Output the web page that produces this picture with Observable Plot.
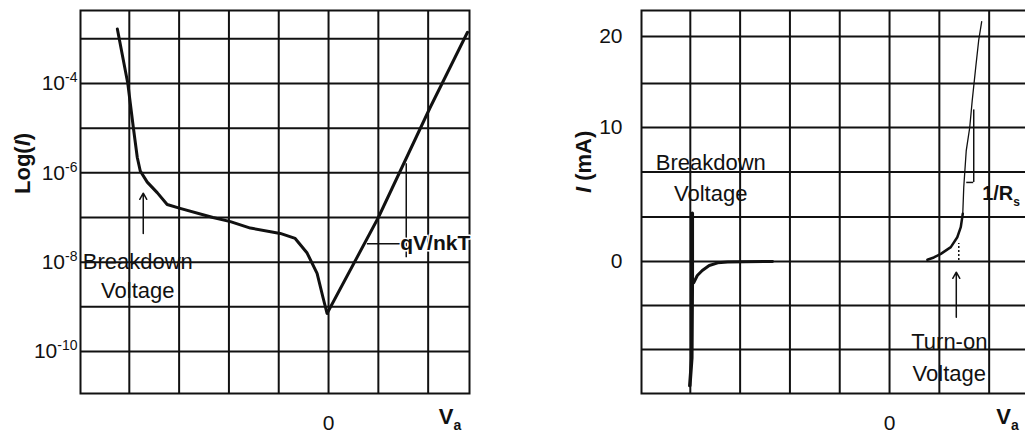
<!DOCTYPE html>
<html><head><meta charset="utf-8">
<script src="https://cdn.jsdelivr.net/npm/d3@7"></script>
<script src="https://cdn.jsdelivr.net/npm/@observablehq/plot@0.6"></script>
<style>
html,body{margin:0;padding:0;background:#fff;overflow:hidden;}
body{width:1025px;height:440px;position:relative;font-family:"Liberation Sans",Arial,sans-serif;}
#left{position:absolute;left:0;top:0;width:500px;height:440px;}
#right{position:absolute;left:560px;top:0;width:560px;height:440px;}
svg{max-width:none !important;}
</style></head><body>
<div id="left"></div><div id="right"></div>
<script>
// ---------- data: left panel, Log(I) vs V ----------
const logV = [-4.24, -4.03, -3.92, -3.84, -3.78, -3.64, -3.44, -3.24, -2.98, -2.32, -1.97, -1.57, -0.97, -0.67, -0.43, -0.23, -0.11, -0.03, 1.0, 2.04, 2.79];
const logI = [1.66e-3, 1.0e-4, 1.05e-5, 2.2e-6, 1.1e-6, 6.2e-7, 3.6e-7, 1.95e-7, 1.6e-7, 1.0e-7, 8.1e-8, 5.8e-8, 4.4e-8, 3.4e-8, 1.6e-8, 5.6e-9, 1.6e-9, 7.1e-10, 1.0e-7, 2.9e-5, 1.4e-3];
const logTicks = [1e-4, 1e-6, 1e-8, 1e-10];
const logGrid = [1e-3, 1e-4, 1e-5, 1e-6, 1e-7, 1e-8, 1e-9, 1e-10];
const vGrid = [-4, -3, -2, -1, 0, 1, 2];
const vTicks = [0];

// ---------- data: right panel, I (mA) vs V ----------
const revV = [-3.96, -3.96, -3.97, -4.01];
const revI = [3.6, -1.5, -7.3, -9.4];
const kneeV = [-3.93, -3.86, -3.76, -3.62, -3.45, -3.25, -2.35];
const kneeI = [-1.6, -1.06, -0.68, -0.3, -0.1, -0.03, 0];
const fwdLowV = [0.76, 0.89, 1.03, 1.23, 1.36, 1.43, 1.47];
const fwdLowI = [0.13, 0.3, 0.57, 1.07, 1.81, 2.56, 3.56];
const fwdHighV = [1.47, 1.49, 1.54, 1.61, 1.66, 1.73, 1.79, 1.85];
const fwdHighI = [3.56, 5.54, 8.28, 10.0, 13.07, 16.7, 19.6, 21.6];
const linTicks = [0, 10, 20];
const linGrid = [20, 15, 10, 6.67, 3.33, 0, -3.33, -6.67];
const linKnots = [-10, 0, 10, 15, 20, 22.8];

const ink = "#111";
const font = "'Liberation Sans', Arial, sans-serif";
const zip = (a, b) => a.map((v, i) => ({v, i: b[i]}));

const left = Plot.plot({
  width: 500, height: 440,
  marginLeft: 80, marginRight: 31, marginTop: 10, marginBottom: 47,
  style: {fontFamily: font, fontSize: "21px", color: ink, background: "transparent", overflow: "visible"},
  x: {domain: [-4.98, 2.83], ticks: vTicks, tickSize: 0, tickPadding: 22, label: null, tickFormat: d => String(d)},
  y: {type: "log", domain: [1.15e-11, 4.3e-3], ticks: logTicks, tickSize: 0, tickPadding: 3, label: null,
      tickFormat: d => "10^" + Math.round(Math.log10(d))},
  marks: [
    Plot.ruleX(vGrid, {stroke: ink, strokeWidth: 2}),
    Plot.ruleY(logGrid, {stroke: ink, strokeWidth: 2}),
    Plot.frame({stroke: ink, strokeWidth: 2}),
    Plot.line(zip(logV, logI), {x: "v", y: "i", stroke: ink, strokeWidth: 3}),
    Plot.arrow([{x: -3.72, y1: 4.4e-8, y2: 3.5e-7}], {x: "x", y1: "y1", y2: "y2", stroke: ink, strokeWidth: 1.5, headLength: 7}),
    Plot.text(["Breakdown\nVoltage"], {x: () => -3.83, y: () => 5.3e-9, fontSize: 22, fill: ink, lineHeight: 1.3}),
    Plot.ruleY([2.6e-8], {x1: 0.78, x2: 1.56, stroke: ink, strokeWidth: 1.5}),
    Plot.ruleX([1.56], {y1: 1.26e-8, y2: 1.6e-6, stroke: ink, strokeWidth: 1.5}),
    Plot.text(["qV/nkT"], {x: () => 1.44, y: () => 2.6e-8, textAnchor: "start", fontSize: 21, fontWeight: "bold", fill: ink, stroke: "white", strokeWidth: 3}),
    Plot.text(["V_a"], {x: () => 2.44, frameAnchor: "bottom", dy: 30, fontSize: 22, fontWeight: "bold", fill: ink}),
    Plot.text(["Log(I)"], {frameAnchor: "left", rotate: -90, dx: -58, dy: -8, fontSize: 22, fontWeight: "bold", fill: ink})
  ]
});

const right = Plot.plot({
  width: 560, height: 440,
  marginLeft: 81, marginRight: 90, marginTop: 10, marginBottom: 47,
  style: {fontFamily: font, fontSize: "21px", color: ink, background: "transparent", overflow: "visible"},
  x: {domain: [-4.98, 2.83], ticks: vTicks, tickSize: 0, tickPadding: 22, label: null, tickFormat: d => String(d)},
  y: {type: "linear", domain: linKnots, range: [393, 261, 127, 83, 36, 10], ticks: linTicks, tickSize: 0, tickPadding: 19, label: null, tickFormat: d => String(d)},
  marks: [
    Plot.ruleX(vGrid, {stroke: ink, strokeWidth: 2}),
    Plot.ruleY(linGrid, {stroke: ink, strokeWidth: 2}),
    Plot.frame({stroke: ink, strokeWidth: 2}),
    Plot.line(zip(revV, revI), {x: "v", y: "i", stroke: ink, strokeWidth: 3.5}),
    Plot.line(zip(kneeV, kneeI), {x: "v", y: "i", stroke: ink, strokeWidth: 3}),
    Plot.line(zip(fwdLowV, fwdLowI), {x: "v", y: "i", stroke: ink, strokeWidth: 2.5}),
    Plot.line(zip(fwdHighV, fwdHighI), {x: "v", y: "i", stroke: ink, strokeWidth: 1.3}),
    Plot.text(["Breakdown\nVoltage"], {x: () => -3.59, y: () => 6.4, fontSize: 22, fill: ink, lineHeight: 1.4}),
    Plot.ruleX([1.39], {y1: 0.07, y2: 1.34, stroke: ink, strokeWidth: 1.5, strokeDasharray: "2,2"}),
    Plot.arrow([{x: 1.34, y1: -4.22, y2: -0.81}], {x: "x", y1: "y1", y2: "y2", stroke: ink, strokeWidth: 1.5, headLength: 7}),
    Plot.text(["Turn-on\nVoltage"], {x: () => 1.2, y: () => -7.05, fontSize: 22, fill: ink, lineHeight: 1.45}),
    Plot.ruleY([5.9], {x1: 1.55, x2: 1.69, stroke: ink, strokeWidth: 1.5}),
    Plot.ruleX([1.69], {y1: 5.9, y2: 12, stroke: ink, strokeWidth: 1.5}),
    Plot.text(["1/R_s"], {x: () => 1.86, y: () => 5.07, textAnchor: "start", fontSize: 20, fontWeight: "bold", fill: ink}),
    Plot.text(["V_a"], {x: () => 2.37, frameAnchor: "bottom", dy: 30, fontSize: 22, fontWeight: "bold", fill: ink}),
    Plot.text(["I (mA)"], {frameAnchor: "left", rotate: -90, dx: -58, dy: -9, fontSize: 22, fontWeight: "bold", fill: ink})
  ]
});

function rich(svg) {
  d3.select(svg).selectAll("text").each(function () {
    if (this.querySelector("tspan")) return;
    const t = this.textContent;
    let m;
    if (t === "V_a") this.innerHTML = 'V<tspan font-size="14" dy="6">a</tspan>';
    else if (t === "1/R_s") this.innerHTML = '1/R<tspan font-size="12" dy="6">s</tspan>';
    else if (t === "Log(I)") this.innerHTML = 'Log(<tspan font-style="italic">I</tspan>)';
    else if (t === "I (mA)") this.innerHTML = '<tspan font-style="italic">I</tspan> (mA)';
    else if ((m = t.match(/^10\^(-?\d+)$/))) this.innerHTML = '10<tspan font-size="14" dy="-8">' + m[1] + '</tspan>';
  });
}
rich(left); rich(right);
document.getElementById("left").appendChild(left);
document.getElementById("right").appendChild(right);
</script>
</body></html>
